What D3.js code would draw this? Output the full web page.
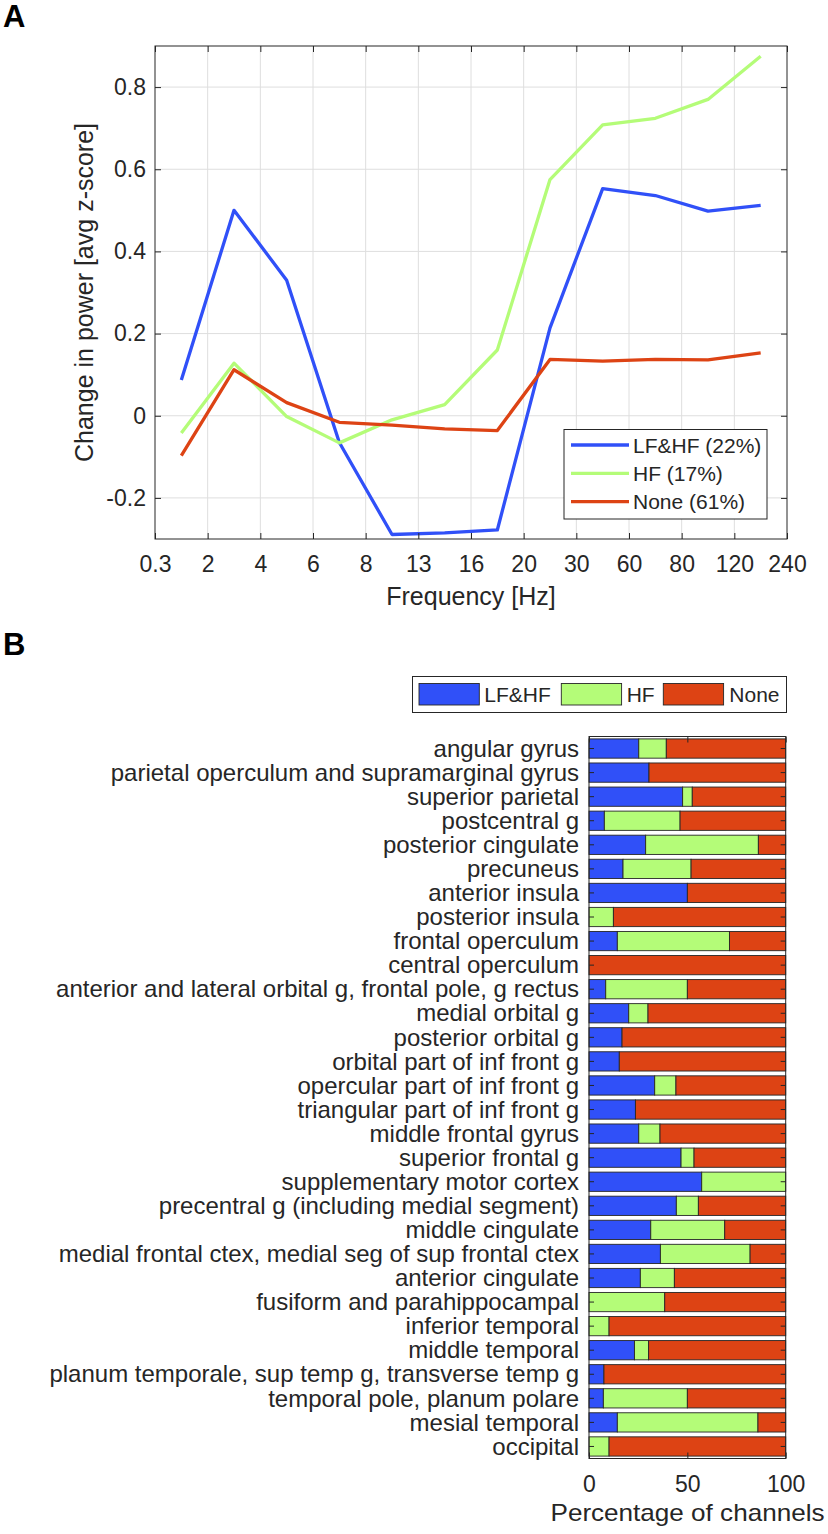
<!DOCTYPE html>
<html><head><meta charset="utf-8">
<script src="https://cdn.jsdelivr.net/npm/d3@7"></script>
<style>
body{margin:0;background:#fff}
svg text{font-family:"Liberation Sans",Arial,Helvetica,sans-serif;fill:#262626}
</style></head>
<body><svg id="c" width="828" height="1534"></svg>
<script>
// ---------- Panel A data ----------
const freqTickLabels = ["0.3","2","4","6","8","13","16","20","30","60","80","120","240"];
const powerTicks = [-0.2, 0, 0.2, 0.4, 0.6, 0.8];
const lfhfPower = [0.087, 0.500, 0.330, -0.065, -0.289, -0.285, -0.278, 0.214, 0.553, 0.536, 0.498, 0.512];
const hfPower   = [-0.042, 0.128, -0.002, -0.066, -0.010, 0.027, 0.160, 0.575, 0.708, 0.724, 0.770, 0.875];
const nonePower = [-0.097, 0.112, 0.032, -0.016, -0.023, -0.032, -0.036, 0.137, 0.133, 0.137, 0.136, 0.153];
const lineLegend = ["LF&HF (22%)", "HF (17%)", "None (61%)"];

// ---------- Panel B data ----------
const regions = [
 "angular gyrus","parietal operculum and supramarginal gyrus","superior parietal","postcentral g",
 "posterior cingulate","precuneus","anterior insula","posterior insula","frontal operculum",
 "central operculum","anterior and lateral orbital g, frontal pole, g rectus","medial orbital g",
 "posterior orbital g","orbital part of inf front g","opercular part of inf front g",
 "triangular part of inf front g","middle frontal gyrus","superior frontal g","supplementary motor cortex",
 "precentral g (including medial segment)","middle cingulate","medial frontal ctex, medial seg of sup frontal ctex",
 "anterior cingulate","fusiform and parahippocampal","inferior temporal","middle temporal",
 "planum temporale, sup temp g, transverse temp g","temporal pole, planum polare","mesial temporal","occipital"];
const pctLFHF = [25.3,30.5,47.6,7.8,28.8,17.3,50.0,0,14.4,0,8.5,20.2,16.8,15.4,33.4,23.6,25.3,46.8,57.3,44.4,31.4,36.3,26.1,0,0,23.1,7.6,7.3,14.4,0];
const pctHF   = [14.0,0,4.9,38.5,57.3,34.6,0,12.4,57.0,0,41.5,9.8,0,0,10.8,0,10.8,6.6,42.7,11.2,37.6,45.6,17.3,38.5,10.2,7.2,0,42.7,71.5,10.2];
const pctNone = [60.7,69.5,47.5,53.7,13.9,48.1,50.0,87.6,28.6,100,50.0,70.0,83.2,84.6,55.8,76.4,63.9,46.6,0,44.4,31.0,18.1,56.6,61.5,89.8,69.7,92.4,50.0,14.1,89.8];
const barGroups = ["LF&HF","HF","None"];
const pctTicks = [0, 50, 100];

const colors = ["#3050F8", "#B4FC78", "#DD4314"];
const axisCol = "#262626", gridCol = "#dedede";

const svg = d3.select("#c");

// ================= Panel A =================
const A = {l:155, r:787, t:46, b:539};
const x = d3.scaleLinear().domain([0, freqTickLabels.length - 1]).range([A.l, A.r]);
const y = d3.scaleLinear().domain([-0.3, 0.9]).range([A.b, A.t]);
const gA = svg.append("g");

// grid
gA.append("g").selectAll("line").data(d3.range(1, freqTickLabels.length - 1)).join("line")
  .attr("x1", d => x(d)).attr("x2", d => x(d)).attr("y1", A.t).attr("y2", A.b)
  .attr("stroke", gridCol).attr("stroke-width", 1);
gA.append("g").selectAll("line").data(powerTicks).join("line")
  .attr("x1", A.l).attr("x2", A.r).attr("y1", d => y(d)).attr("y2", d => y(d))
  .attr("stroke", gridCol).attr("stroke-width", 1);

// lines
const line = d3.line().x((d, i) => x(i + 0.5)).y(d => y(d));
[lfhfPower, hfPower, nonePower].forEach((s, k) => {
  gA.append("path").datum(s).attr("d", line).attr("fill", "none")
    .attr("stroke", colors[k]).attr("stroke-width", 3.3).attr("stroke-linejoin", "round");
});

// axes
const fmtA = d => String(+d.toFixed(1));
const xb = d3.axisBottom(x).tickValues(d3.range(freqTickLabels.length)).tickFormat(i => freqTickLabels[i])
  .tickSizeInner(-6).tickSizeOuter(0).tickPadding(17);
gA.append("g").attr("transform", `translate(0,${A.b})`).call(xb)
  .call(g => { g.select(".domain").remove(); g.selectAll("text").attr("font-size", 23).attr("fill", axisCol).attr("font-family", null); g.selectAll("line").attr("stroke", axisCol); });
gA.append("g").attr("transform", `translate(0,${A.t})`)
  .call(d3.axisTop(x).tickValues(d3.range(freqTickLabels.length)).tickFormat("").tickSizeInner(-6).tickSizeOuter(0))
  .call(g => { g.select(".domain").remove(); g.selectAll("line").attr("stroke", axisCol); });
gA.append("g").attr("transform", `translate(${A.l},0)`)
  .call(d3.axisLeft(y).tickValues(powerTicks).tickFormat(fmtA).tickSizeInner(-6).tickSizeOuter(0).tickPadding(9))
  .call(g => { g.select(".domain").remove(); g.selectAll("text").attr("font-size", 23).attr("fill", axisCol).attr("font-family", null); g.selectAll("line").attr("stroke", axisCol); });
gA.append("g").attr("transform", `translate(${A.r},0)`)
  .call(d3.axisRight(y).tickValues(powerTicks).tickFormat("").tickSizeInner(-6).tickSizeOuter(0))
  .call(g => { g.select(".domain").remove(); g.selectAll("line").attr("stroke", axisCol); });
gA.append("rect").attr("x", A.l).attr("y", A.t).attr("width", A.r - A.l).attr("height", A.b - A.t)
  .attr("fill", "none").attr("stroke", axisCol).attr("stroke-width", 1);

gA.append("text").attr("x", (A.l + A.r) / 2).attr("y", 605).attr("text-anchor", "middle")
  .attr("font-size", 25).text("Frequency [Hz]");
gA.append("text").attr("transform", `translate(93,${(A.t + A.b) / 2}) rotate(-90)`).attr("text-anchor", "middle")
  .attr("font-size", 25).text("Change in power [avg z-score]");

// legend A
const lg = gA.append("g");
lg.append("rect").attr("x", 564).attr("y", 429.5).attr("width", 203).attr("height", 89.5)
  .attr("fill", "#fff").attr("stroke", axisCol).attr("stroke-width", 1);
lineLegend.forEach((t, k) => {
  const yy = 445 + k * 28.3;
  lg.append("line").attr("x1", 571).attr("x2", 629).attr("y1", yy).attr("y2", yy)
    .attr("stroke", colors[k]).attr("stroke-width", 3.3);
  lg.append("text").attr("x", 633).attr("y", yy + 7.5).attr("font-size", 21).text(t);
});

svg.append("text").attr("x", 3).attr("y", 27).attr("font-size", 31).attr("font-weight", "bold")
  .style("fill", "#000").text("A");

// ================= Panel B =================
const B = {l:589, r:785.7, t:736.5, b:1458.5};
const xB = d3.scaleLinear().domain([0, 100]).range([B.l, B.r]);
const yB = d3.scaleBand().domain(regions).range([B.t, B.b]).paddingInner(0.2).paddingOuter(0.1);
const gB = svg.append("g");

const table = regions.map((r, i) => ({region: r, "LF&HF": pctLFHF[i], "HF": pctHF[i], "None": pctNone[i]}));
const stacked = d3.stack().keys(barGroups)(table);
gB.append("g").selectAll("g").data(stacked).join("g").attr("fill", (d, k) => colors[k])
  .selectAll("rect").data(d => d).join("rect")
  .attr("x", d => xB(d[0])).attr("width", d => Math.max(0, xB(d[1]) - xB(d[0])))
  .attr("y", d => yB(d.data.region)).attr("height", yB.bandwidth())
  .attr("stroke", d => (d[1] - d[0]) > 0 ? axisCol : "none").attr("stroke-width", 0.9);

// axes B
gB.append("g").attr("transform", `translate(0,${B.b})`)
  .call(d3.axisBottom(xB).tickValues(pctTicks).tickSizeInner(-6).tickSizeOuter(0).tickPadding(17))
  .call(g => { g.select(".domain").remove(); g.selectAll("text").attr("font-size", 23).attr("fill", axisCol).attr("font-family", null); g.selectAll("line").attr("stroke", axisCol); });
gB.append("g").attr("transform", `translate(0,${B.t})`)
  .call(d3.axisTop(xB).tickValues(pctTicks).tickFormat("").tickSizeInner(-6).tickSizeOuter(0))
  .call(g => { g.select(".domain").remove(); g.selectAll("line").attr("stroke", axisCol); });
gB.append("g").attr("transform", `translate(${B.l},0)`)
  .call(d3.axisLeft(yB).tickSizeInner(-5).tickSizeOuter(0).tickPadding(10))
  .call(g => { g.select(".domain").remove(); g.selectAll("text").attr("font-size", 24).attr("fill", axisCol).attr("font-family", null).attr("dy", "0.34em"); g.selectAll("line").attr("stroke", axisCol); });
gB.append("g").attr("transform", `translate(${B.r},0)`)
  .call(d3.axisRight(yB).tickFormat("").tickSizeInner(-5).tickSizeOuter(0))
  .call(g => { g.select(".domain").remove(); g.selectAll("line").attr("stroke", axisCol); });
gB.append("rect").attr("x", B.l).attr("y", B.t).attr("width", B.r - B.l).attr("height", B.b - B.t)
  .attr("fill", "none").attr("stroke", axisCol).attr("stroke-width", 1);

gB.append("text").attr("x", 687.5).attr("y", 1521).attr("text-anchor", "middle")
  .attr("font-size", 24).attr("textLength", 274).attr("lengthAdjust", "spacingAndGlyphs")
  .text("Percentage of channels");

// legend B
const lgB = gB.append("g");
lgB.append("rect").attr("x", 412.5).attr("y", 676.5).attr("width", 374).attr("height", 36)
  .attr("fill", "#fff").attr("stroke", axisCol).attr("stroke-width", 1);
const swX = [419, 561.3, 663.3], txX = [484.3, 626.7, 729.3];
barGroups.forEach((t, k) => {
  lgB.append("rect").attr("x", swX[k]).attr("y", 683.5).attr("width", 60.3).attr("height", 21.5)
    .attr("fill", colors[k]).attr("stroke", axisCol).attr("stroke-width", 0.9);
  lgB.append("text").attr("x", txX[k]).attr("y", 702).attr("font-size", 21).text(t);
});

svg.append("text").attr("x", 3).attr("y", 655).attr("font-size", 31).attr("font-weight", "bold")
  .style("fill", "#000").text("B");
</script></body></html>
